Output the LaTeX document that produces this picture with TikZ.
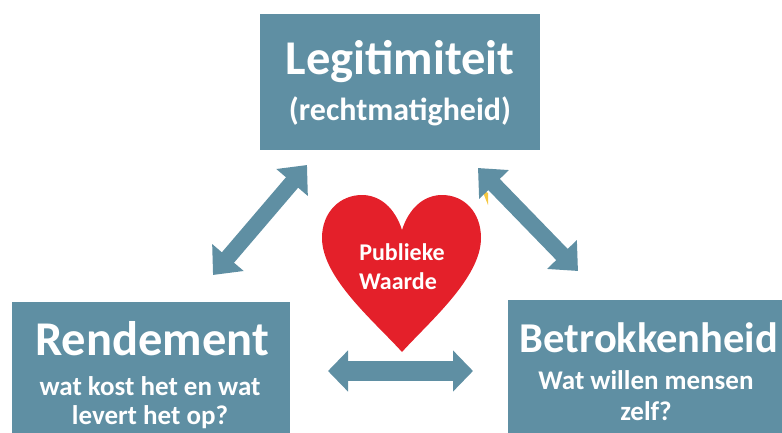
\documentclass[tikz,border=0pt]{standalone}
\usepackage{fontspec}
\setmainfont{Carlito}
\usetikzlibrary{arrows.meta}
\definecolor{boxblue}{HTML}{5F8FA3}
\definecolor{heartred}{HTML}{E4202A}
\definecolor{speck}{HTML}{F5C842}
\tikzset{
  panel/.style={fill=boxblue,draw=none,inner sep=0pt,anchor=north west},
  txt/.style={text=white,inner sep=0pt},
  bigtxt/.style={txt,font=\bfseries\fontsize{48.5}{48.5}\selectfont},
  bettxt/.style={txt,font=\bfseries\fontsize{42.5}{42.5}\selectfont},
  midtxt/.style={txt,font=\bfseries\fontsize{32}{32}\selectfont},
  subtxt/.style={txt,font=\bfseries\fontsize{27}{27}\selectfont},
  hearttxt/.style={txt,font=\bfseries\fontsize{24}{24}\selectfont},
  twoway/.style={draw=boxblue,line width=16pt,{Triangle[length=23pt,width=40pt]}-{Triangle[length=23pt,width=40pt]}},
  flatway/.style={draw=boxblue,line width=20pt,{Triangle[length=20pt,width=40pt]}-{Triangle[length=20pt,width=40pt]}}
}
\begin{document}
\begin{tikzpicture}[x=1pt,y=-1pt]
\useasboundingbox (0,0) rectangle (782,433);
\node[panel,minimum width=280pt,minimum height=136pt] (top) at (260,14) {};
\node[panel,minimum width=278pt,minimum height=131pt] (left) at (12,302) {};
\node[panel,minimum width=274pt,minimum height=133pt] (right) at (508,300) {};
\node[bigtxt] (t1) at (400,62) {Legitimiteit};
\node[midtxt] (t2) at (400,111) {(rechtmatigheid)};
\node[bigtxt] (l1) at (152,339) {Rendement};
\node[subtxt] (l2) at (150,386) {wat kost het en wat};
\node[subtxt] (l3) at (150,417) {levert het op?};
\node[bettxt] (r1) at (649,338) {Betrokkenheid};
\node[subtxt] (r2) at (646,380) {Wat willen mensen};
\node[subtxt] (r3) at (646,411) {zelf?};
\fill[heartred] (402,352) .. controls (375,322) and (322,278) .. (322,238)
  .. controls (322,212) and (340,195) .. (362,195)
  .. controls (380,195) and (395,208) .. (402,230)
  .. controls (409,208) and (424,195) .. (442,195)
  .. controls (464,195) and (481,212) .. (481,238)
  .. controls (481,278) and (429,322) .. (402,352) -- cycle;
\node[hearttxt] (h1) at (402,252) {Publieke};
\node[hearttxt] (h2) at (398,281) {Waarde};
\fill[speck] (482,190) -- (488,193) -- (488,205) -- cycle;
\coordinate (a1) at (307,165);
\coordinate (a2) at (213,275);
\coordinate (b1) at (478,168);
\coordinate (b2) at (578,271);
\coordinate (c1) at (328,371);
\coordinate (c2) at (473,371);
\draw[twoway] (a1) -- (a2);
\draw[twoway] (b1) -- (b2);
\draw[flatway] (c1) -- (c2);
\end{tikzpicture}
\end{document}
